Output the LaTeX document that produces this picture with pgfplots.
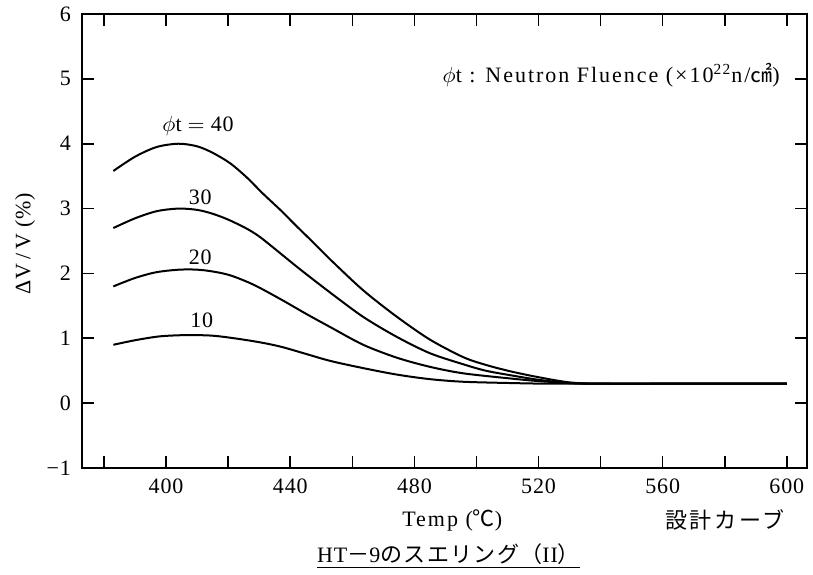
\documentclass[border=0pt]{standalone}
\usepackage{pgfplots}
\pgfplotsset{compat=1.18}
\usepackage{fontspec}
\setmainfont[LetterSpace=4]{Liberation Serif}
\newfontfamily\wide[LetterSpace=9]{Liberation Serif}
\newfontfamily\cjk{Noto Sans CJK JP}
\newfontfamily\cjkwide[LetterSpace=12]{Noto Sans CJK JP}
\newfontfamily\cjkmid[LetterSpace=6]{Noto Sans CJK JP}
\begin{document}
\begin{tikzpicture}
\useasboundingbox (-41pt,-53pt) rectangle (365.5pt,234pt);
\begin{axis}[at={(0,0)}, anchor=south west, scale only axis,
  width=362.5pt, height=227pt,
  xmin=372.9, xmax=606.5, ymin=-1, ymax=6,
  xtick={400,440,...,600}, minor xtick={380,420,...,580},
  ytick={-1,0,...,6}, yticklabels={−1,0,1,2,3,4,5,6},
  tick align=inside, major tick length=6pt, minor tick length=6pt,
  axis line style={line width=1pt},
  tick style={line width=0.8pt, black},
  /pgf/number format/assume math mode=true,
  ticklabel style={font=\fontsize{11}{12}\selectfont},
  xticklabel style={yshift=-2pt}, yticklabel style={xshift=-2pt},
  clip=false]
\addplot[black, line width=1pt, smooth] coordinates {(383,3.58) (390,3.8) (397,3.95) (404,4.0) (410,3.96) (415,3.86) (420.6,3.70) (426,3.48) (431,3.24) (437,2.97) (442,2.73) (448,2.45) (453,2.21) (463.5,1.74) (474.4,1.33) (485,0.98) (495.7,0.71) (503,0.59) (511,0.49) (520,0.4) (530,0.32) (540,0.3) (570,0.3) (600,0.3)};
\addplot[black, line width=1pt, smooth] coordinates {(383,2.7) (390,2.85) (397,2.96) (404,3.0) (410,2.98) (415,2.92) (420,2.83) (426,2.69) (430,2.57) (434.5,2.4) (443,2.07) (453,1.70) (463.5,1.33) (474.4,1.02) (485,0.77) (495.7,0.6) (503,0.5) (511,0.43) (520,0.36) (530,0.31) (540,0.3) (570,0.3) (600,0.3)};
\addplot[black, line width=1pt, smooth] coordinates {(383,1.8) (390,1.93) (397,2.02) (405,2.06) (412,2.05) (420,1.98) (428,1.83) (437,1.6) (445,1.38) (453,1.17) (463.5,0.9) (474.4,0.7) (485,0.56) (495.7,0.46) (511,0.38) (520,0.34) (530,0.31) (540,0.3) (570,0.3) (600,0.3)};
\addplot[black, line width=1pt, smooth] coordinates {(383,0.9) (390,0.97) (398,1.03) (407,1.05) (415,1.04) (422,1.0) (430,0.94) (437,0.87) (445,0.76) (453,0.65) (463.5,0.54) (474.4,0.44) (485,0.37) (495.7,0.33) (511,0.31) (525,0.3) (560,0.3) (600,0.3)};
\node[font=\fontsize{11}{12}\selectfont] at (axis cs:410.3,4.28) {$\phi$t${}={}$40};
\node[font=\fontsize{11}{12}\selectfont] at (axis cs:411,3.18) {30};
\node[font=\fontsize{11}{12}\selectfont] at (axis cs:411,2.25) {20};
\node[font=\fontsize{11}{12}\selectfont] at (axis cs:411.5,1.28) {10};
\node[anchor=east, font=\fontsize{11}{12}\wide] at (axis cs:600,5.05) {$\phi$t : Neutron Fluence (×10\textsuperscript{22}n/{\cjk ㎠})};
\node[font=\fontsize{11}{12}\wide] at ([yshift=-26pt]axis cs:492.2,-1) {Temp ({\cjk ℃})};
\node[font=\fontsize{11}{12}\selectfont] at ([yshift=-26pt]axis cs:580,-1) {\cjkwide 設計カーブ};
\node[font=\fontsize{11}{12}\selectfont] at ([yshift=-44pt]axis cs:491,-1) {\underline{HT{\cjk －}9{\cjkmid のスエリング（}II{\cjk ）}}};
\node[rotate=90, font=\fontsize{11}{12}\selectfont] at ([xshift=-28.5pt]axis cs:372.9,2.46) {ΔV\,/\,V (\%)};
\end{axis}
\end{tikzpicture}
\end{document}
